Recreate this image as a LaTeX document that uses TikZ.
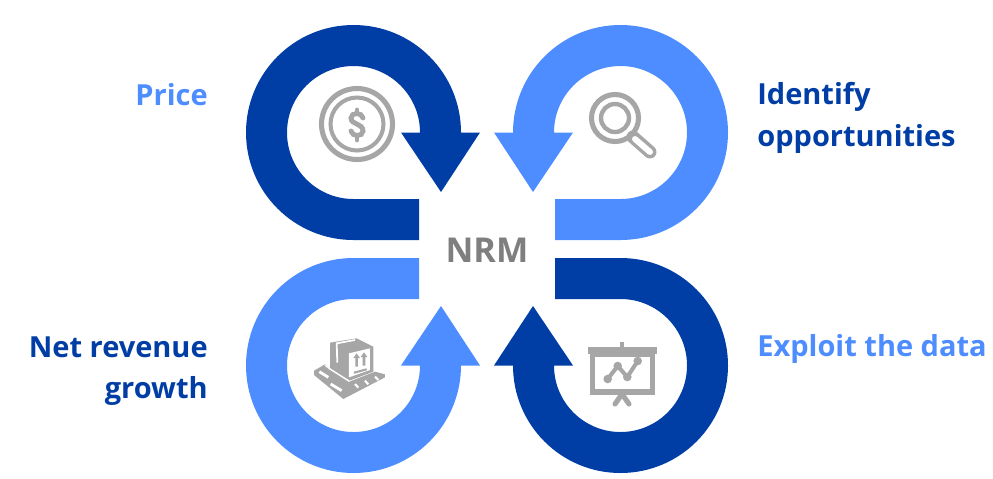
\documentclass[tikz,border=0pt]{standalone}
\usepackage{fontspec}
\setmainfont{Open Sans}
\definecolor{loopdark}{HTML}{003DA5}
\definecolor{looplight}{HTML}{4D8DFF}
\definecolor{icongray}{HTML}{A6A6A6}
\definecolor{nrmgray}{HTML}{7F7F7F}
\begin{document}
\begin{tikzpicture}[x=0.02cm,y=0.02cm,yscale=-1,
  every node/.style={font=\fontsize{16.5}{23.5}\selectfont\bfseries,inner sep=0pt},
  icon/.style={draw=icongray,line width=2.9pt},
  pics/loop/.style={code={\fill[#1] (-68,-9) -- (-133.5,-9) arc[start angle=90,end angle=360,radius=107.5]
    -- (-7,-116.5) -- (-46,-57) -- (-86,-116.5) -- (-67,-116.5) arc[start angle=0,end angle=-270,radius=66.5]
    -- (-68,-50) -- cycle;}}]
\useasboundingbox (0,0) rectangle (993,478);
\pic[yscale=-1] at (487,249) {loop=loopdark};
\pic[xscale=-1,yscale=-1] at (487,249) {loop=looplight};
\pic at (487,249) {loop=looplight};
\pic[xscale=-1] at (487,249) {loop=loopdark};
\node[text=nrmgray,font=\fontsize{19.5}{23.5}\selectfont\bfseries] (nrm) at (487,250) {NRM};
\node[text=looplight,anchor=east] (price) at (208,95) {Price};
\node[text=loopdark,anchor=west,align=left] (identify) at (757,118) {Identify\\opportunities};
\node[text=loopdark,anchor=east,align=right] (growth) at (208,371) {Net revenue\\growth};
\node[text=looplight,anchor=west] (exploit) at (757,349) {Exploit the data};
% price icon
\draw[icon] (357,124) circle (35.5);
\draw[icon,line width=2.3pt] (357,124) circle (26.5);
\draw[icon,line width=2.8pt,line cap=round] (363,118) .. controls (362,112) and (351,112) .. (351,118)
  .. controls (351,125) and (363,123) .. (363,131) .. controls (363,137) and (352,137) .. (351,131);
\draw[icon,line width=2.8pt,line cap=round] (357,110) -- (357,113) (357,136) -- (357,140);
% magnifier icon
\draw[icon] (615,118) circle (23.5);
\draw[icon,line width=2.5pt] (615,118) circle (14);
\draw[icongray,line width=7.4pt,line cap=round] (633,137) -- (650,152);
\draw[white,line width=3.4pt,line cap=round] (635,139) -- (650,152);
% board icon
\fill[icongray] (588,347) rectangle (657,354);
\fill[icongray] (620,342) rectangle (624,347);
\draw[icon] (592.5,354) rectangle (652.5,392);
\draw[icongray,line width=2.3pt] (607.7,379) -- (617.7,366) -- (627.3,377) -- (637.7,361);
\foreach \px/\py in {607.7/379,617.7/366,627.3/377,637.7/361}
  \fill[icongray] (\px,\py) circle (4.3);
\draw[icon,line cap=round,line join=round] (615,404) -- (622,394) -- (629,404);
% pallet icon
\begin{scope}[shift={(290,320)},scale=0.3333]
\fill[icongray] (72,152) -- (105,133) -- (120,145) -- (178,185) -- (255,155) -- (285,163) -- (285,172)
  -- (160,237) -- (72,165) -- cycle;
\fill[icongray] (120,68) -- (200,55) -- (250,80) -- (250,155) -- (178,182) -- (120,145) -- cycle;
\draw[white,line width=0.8pt] (178,184) -- (120,147) -- (105,135);
\fill[white] (177,100) -- (240,85) -- (240,150) -- (177,172) -- cycle;
\draw[white,line width=1pt] (195,60) -- (140,70) -- (142,128);
\draw[white,line width=1.6pt] (88,155) -- (115,172) (122,192) -- (155,212);
\draw[white,line width=1.2pt] (195,192) -- (205,203) (225,182) -- (235,193) (255,170) -- (265,180);
\fill[icongray] (200,100) -- (210,114) -- (204,114) -- (204,140) -- (196,140) -- (196,114) -- (190,114) -- cycle;
\fill[icongray] (222,97) -- (232,111) -- (226,111) -- (226,137) -- (218,137) -- (218,111) -- (212,111) -- cycle;
\draw[icongray,line width=1.2pt] (192,158) -- (230,148);
\end{scope}
\end{tikzpicture}
\end{document}
